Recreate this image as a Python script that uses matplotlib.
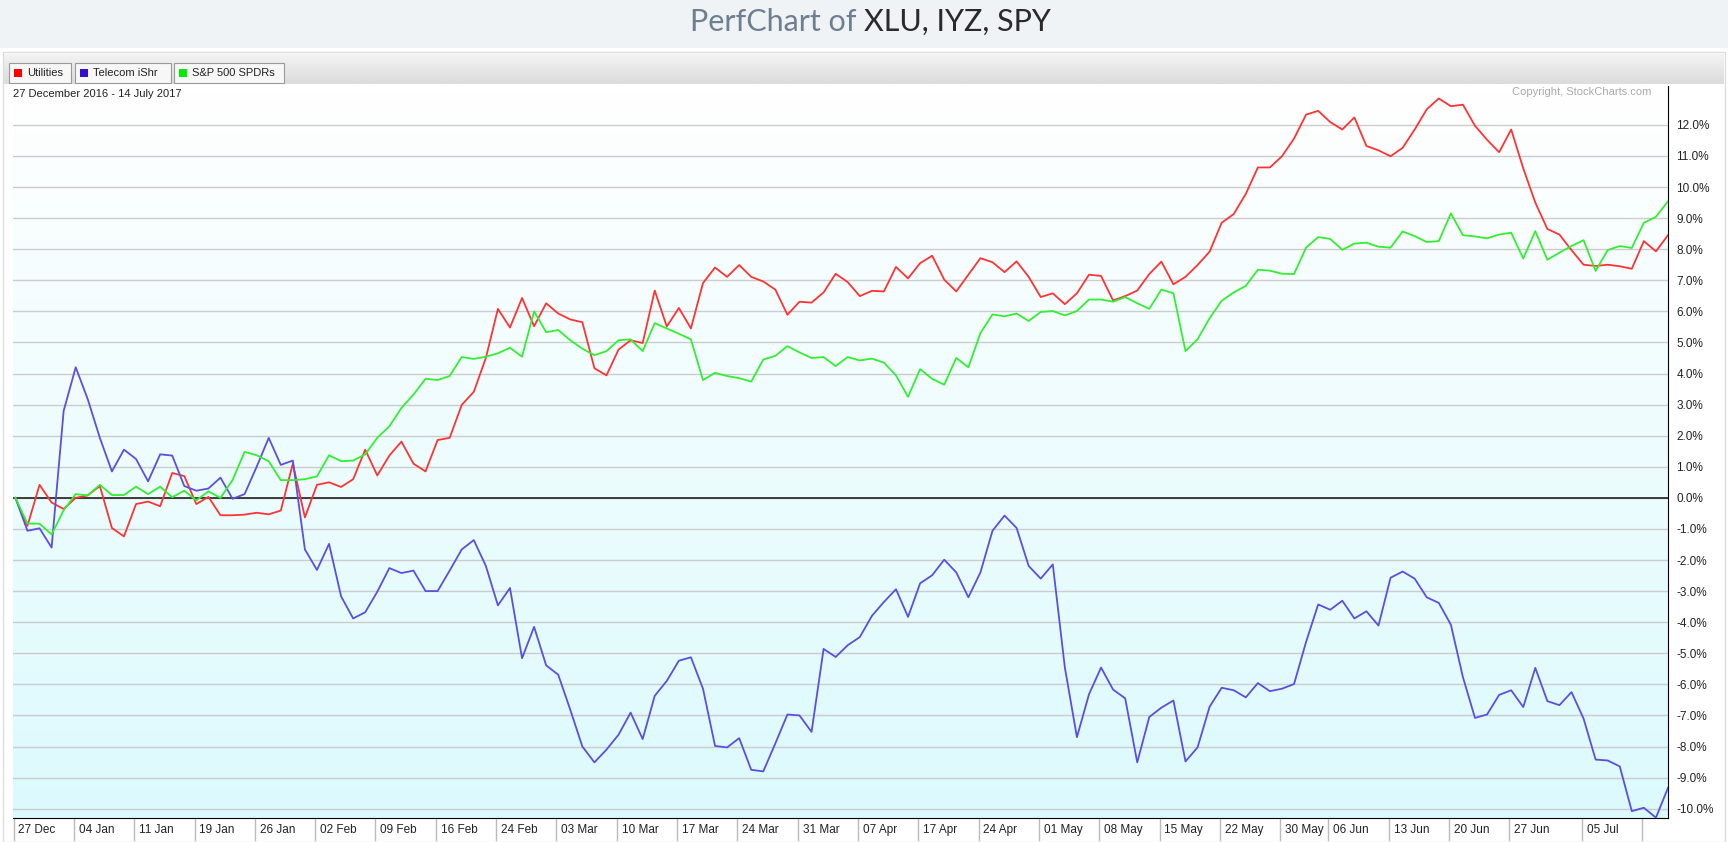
import numpy as np
import matplotlib.pyplot as plt
from matplotlib.patches import Rectangle
from matplotlib.transforms import blended_transform_factory

plt.rcParams['font.family'] = ['Liberation Sans', 'DejaVu Sans']

# percent change since 27 Dec 2016, one value per trading day
utilities = [0, -0.9, 0.42, -0.15, -0.36, 0.0, 0.08, 0.38, -0.97, -1.24, -0.2, -0.12, -0.27, 0.8, 0.7,
             -0.2, 0.03, -0.56, -0.56, -0.54, -0.48, -0.53, -0.41, 1.1, -0.63, 0.42, 0.5, 0.35, 0.6, 1.55,
             0.72, 1.36, 1.81,
             1.1, 0.85, 1.86, 1.93, 2.99, 3.41, 4.5, 6.08, 5.48, 6.43, 5.52, 6.26, 5.93, 5.74, 5.65, 4.17,
             3.94, 4.77, 5.07, 4.98, 6.67, 5.51, 6.11, 5.45, 6.91, 7.41, 7.11, 7.49, 7.11, 6.96, 6.7,
             5.89, 6.31, 6.28, 6.61, 7.21, 6.94, 6.49, 6.66, 6.64, 7.43, 7.06, 7.55, 7.79, 7.02, 6.64,
             7.18, 7.71, 7.58, 7.26, 7.61, 7.11, 6.46, 6.58, 6.23, 6.58, 7.18, 7.14, 6.35, 6.49, 6.67,
             7.2, 7.6, 6.87, 7.11, 7.49, 7.92, 8.85, 9.13, 9.78, 10.63, 10.63, 10.99, 11.56, 12.33, 12.45,
             12.09, 11.85, 12.24, 11.32, 11.18, 10.99, 11.26, 11.85, 12.5, 12.85, 12.6, 12.65, 11.97,
             11.52, 11.12,
             11.85, 10.6, 9.5, 8.65, 8.47, 7.97, 7.5, 7.46, 7.5, 7.45, 7.37, 8.26, 7.93, 8.45]

telecom = [0, -1.06, -0.98, -1.6, 2.8, 4.2, 3.17, 1.93, 0.85, 1.55, 1.25, 0.53, 1.4, 1.36, 0.38, 0.23,
           0.3, 0.65, -0.03, 0.12, 1.0, 1.93, 1.06, 1.2, -1.66, -2.32, -1.48, -3.17, -3.88, -3.68, -3.02,
           -2.26, -2.42,
           -2.34, -3.0, -3.0, -2.34, -1.66, -1.36, -2.19, -3.46, -2.9, -5.16, -4.15, -5.39, -5.69, -6.82,
           -8.0, -8.51, -8.1, -7.62, -6.91, -7.76, -6.37, -5.89, -5.24, -5.13, -6.14, -7.98, -8.03,
           -7.73, -8.75, -8.8, -7.9,
           -6.97, -7.0, -7.53, -4.86, -5.12, -4.74, -4.48, -3.8, -3.35, -2.94, -3.83, -2.75, -2.49,
           -1.99, -2.4, -3.2, -2.4, -1.06, -0.57, -0.97, -2.19, -2.6, -2.14, -5.46, -7.7, -6.32, -5.46,
           -6.17, -6.45, -8.51,
           -7.05, -6.75, -6.52, -8.48, -8.03, -6.72, -6.11, -6.19, -6.42, -5.96, -6.22, -6.14, -5.99,
           -4.63, -3.43, -3.6, -3.31, -3.88, -3.65, -4.11, -2.57, -2.37, -2.6, -3.2, -3.38, -4.08, -5.77,
           -7.08, -6.97, -6.34,
           -6.19, -6.73, -5.47, -6.54, -6.67, -6.25, -7.1, -8.42, -8.45, -8.64, -10.08, -9.97, -10.29, -9.33]

spy = [0, -0.83, -0.83, -1.18, -0.4, 0.12, 0.08, 0.42, 0.09, 0.09, 0.36, 0.12, 0.36, 0.02, 0.23, -0.08,
       0.21, 0.0, 0.57, 1.48, 1.37, 1.18, 0.57, 0.57, 0.6, 0.69, 1.37, 1.18, 1.2, 1.4, 1.93, 2.3, 2.89,
       3.32, 3.83, 3.79, 3.92, 4.53, 4.47, 4.54, 4.65, 4.83, 4.54, 6.0, 5.33, 5.4, 5.07, 4.8, 4.59, 4.72,
       5.07, 5.1, 4.72, 5.62, 5.45, 5.28, 5.1, 3.79, 4.02, 3.92, 3.85, 3.74, 4.45, 4.57,
       4.88, 4.68, 4.5, 4.53, 4.24, 4.53, 4.42, 4.48, 4.35, 3.94, 3.25, 4.14, 3.83, 3.64, 4.5, 4.2, 5.3,
       5.9, 5.84, 5.93, 5.69, 5.98, 6.01, 5.87, 6.01, 6.38, 6.38, 6.31, 6.46, 6.26,
       6.08, 6.7, 6.58, 4.72, 5.1, 5.78, 6.34, 6.61, 6.82, 7.34, 7.31, 7.21, 7.2, 8.05, 8.39, 8.33, 7.98,
       8.18, 8.21, 8.08, 8.05, 8.57, 8.42, 8.23, 8.26, 9.15, 8.45, 8.41, 8.35, 8.47,
       8.53, 7.7, 8.58, 7.66, 7.89, 8.1, 8.29, 7.3, 7.97, 8.1, 8.04, 8.85, 9.04, 9.54]

tick_idx = [0, 5, 10, 15, 20, 25, 30, 35, 40, 45, 50, 55, 60, 65, 70, 75, 80, 85, 90, 95, 100, 105,
            109, 114, 119, 124, 130, 135]
tick_labels = ["27 Dec", "04 Jan", "11 Jan", "19 Jan", "26 Jan", "02 Feb", "09 Feb", "16 Feb", "24 Feb",
               "03 Mar", "10 Mar", "17 Mar", "24 Mar", "31 Mar", "07 Apr", "17 Apr", "24 Apr", "01 May",
               "08 May", "15 May", "22 May", "30 May", "06 Jun", "13 Jun", "20 Jun", "27 Jun", "05 Jul", ""]
y_ticks = list(range(-10, 13))

names = ["Utilities", "Telecom iShr", "S&P 500 SPDRs"]
colors = ["#ff3333", "#5b4fe0", "#33ee33"]
box_colors = ["#ff0000", "#3311cc", "#00ee00"]

W, H = 1728, 842
fig = plt.figure(figsize=(W / 100, H / 100), dpi=100)
fig.patch.set_facecolor("white")

# title band
fig.patches.append(Rectangle((0, 1 - 48 / H), 1, 48 / H, transform=fig.transFigure,
                             facecolor="#eff3f6", edgecolor="none"))
fig.text(0.5, 1 - 22 / H, "PerfChart of ", ha="right", va="center", fontsize=22,
         family="Lato", color="#6e8090")
fig.text(0.5, 1 - 22 / H, "XLU, IYZ, SPY", ha="left", va="center", fontsize=22,
         family="Lato", color="#2a2a2a")
# panel border + legend bar
fig.patches.append(Rectangle((3 / W, 0), 1 - 6 / W, 1 - 52 / H, transform=fig.transFigure,
                             facecolor="none", edgecolor="#dddddd", lw=1))
bar = fig.add_axes([4 / W, 1 - 84 / H, 1 - 8 / W, 30 / H])
bar.imshow(np.linspace(0.95, 0.86, 20).reshape(-1, 1), cmap="gray", vmin=0, vmax=1,
           aspect="auto", extent=[0, 1, 0, 1])
bar.set_xlim(0, 1)
bar.set_ylim(0, 1)
bar.axis("off")

btn = [(9, 71), (75, 171), (174, 284)]
for (x0, x1), name, c in zip(btn, names, box_colors):
    fig.patches.append(Rectangle((x0 / W, 1 - 83 / H), (x1 - x0) / W, 20 / H,
                                 transform=fig.transFigure, facecolor="#f7f7f7",
                                 edgecolor="#9a9a9a", lw=0.8))
    fig.patches.append(Rectangle(((x0 + 5) / W, 1 - 77 / H), 8 / W, 8 / H,
                                 transform=fig.transFigure, facecolor=c, edgecolor="none"))
    fig.text((x0 + 18) / W, 1 - 73 / H, name, fontsize=8, va="center", color="#222222")

# main plot
ax = fig.add_axes([13 / W, 1 - 818 / H, (1668 - 13) / W, (818 - 86) / H])
x = np.arange(len(utilities))
ax.imshow(np.linspace(0, 1, 100).reshape(-1, 1),
          cmap=plt.matplotlib.colors.LinearSegmentedColormap.from_list("bg", ["#ffffff", "#dcfafd"]),
          aspect="auto", extent=[-0.2, 137, -10.3, 13.25], zorder=0)
for v in y_ticks:
    ax.axhline(v, color="#cccccc", lw=1, zorder=1)
ax.axhline(0, color="#222222", lw=1.2, zorder=2)

for series, c in zip([utilities, telecom, spy], colors):
    ax.plot(x, series, color=c, lw=1.3, zorder=3)

ax.set_xlim(-0.2, 137)
ax.set_ylim(-10.3, 13.25)
for s in ["top", "left"]:
    ax.spines[s].set_visible(False)
ax.spines["right"].set_color("black")
ax.spines["bottom"].set_color("black")
ax.yaxis.tick_right()
ax.set_yticks(y_ticks, [f"{v:.1f}%" for v in y_ticks])
ax.tick_params(axis="y", length=0, pad=6, labelsize=8.5, labelcolor="#222222")
ax.set_xticks([])

tr = blended_transform_factory(ax.transData, ax.transAxes)
for i, lab in zip(tick_idx, tick_labels):
    ax.plot([i - 0.15, i - 0.15], [0, -22 / 732], transform=tr, color="#bbbbbb", lw=1, clip_on=False)
    ax.text(i + 0.25, -12 / 732, lab, transform=tr, fontsize=8.5, va="center", ha="left", color="#222222")

ax.text(0, 1 - 8 / 732, "27 December 2016 - 14 July 2017", transform=ax.transAxes,
        fontsize=8, va="center", ha="left", color="#222222")
ax.text(0.99, 1 - 6 / 732, "Copyright, StockCharts.com", transform=ax.transAxes,
        fontsize=8, va="center", ha="right", color="#aaaaaa")

fig.savefig("out.png", dpi=100)
